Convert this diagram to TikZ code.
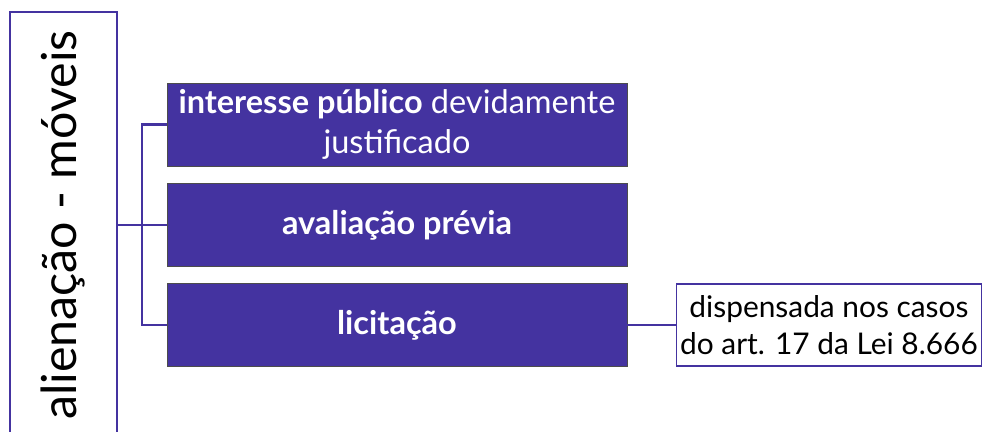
\documentclass[tikz,border=0pt]{standalone}
\usepackage{fontspec}
\setmainfont{Lato}
\usetikzlibrary{calc,positioning}
\definecolor{roxo}{RGB}{68,51,160}
\tikzset{
	caixa/.style={draw=black!70,fill=roxo,text=white,minimum width=9.2cm,minimum height=1.66cm,align=center,font=\fontsize{18.5}{22.5}\selectfont},
	liga/.style={draw=roxo,line width=1.2pt}
}

\begin{document}
\begin{tikzpicture}[x=0.02cm,y=-0.02cm]
	\useasboundingbox (0,0) rectangle (985,432);
	\node[draw=roxo,line width=1pt,rotate=90,minimum width=8.52cm,minimum height=2.14cm,font=\fontsize{27.5}{30}\selectfont] (alien) at (63.5,225) {alienação - móveis};
	\node[caixa] (pub) at (397,124.5) {\textbf{interesse público} devidamente\\justificado};
	\node[caixa] (aval) at (397,225) {\textbf{avaliação prévia}};
	\node[caixa] (lic) at (397,325) {\textbf{licitação}};
	\node[draw=roxo,line width=1pt,inner xsep=1pt,minimum width=6.1cm,minimum height=1.64cm,align=center,font=\fontsize{17}{21}\selectfont] (disp) at (829,325) {dispensada nos casos\\do art. 17 da Lei 8.666};
	\path (142,0) coordinate (junc);
	\draw[liga] (alien.south) -- (aval.west);
	\draw[liga] (pub.west) -- (pub.west -| junc) -- (lic.west -| junc) -- (lic.west);
	\draw[liga] (lic.east) -- (disp.west);
\end{tikzpicture}
\end{document}
